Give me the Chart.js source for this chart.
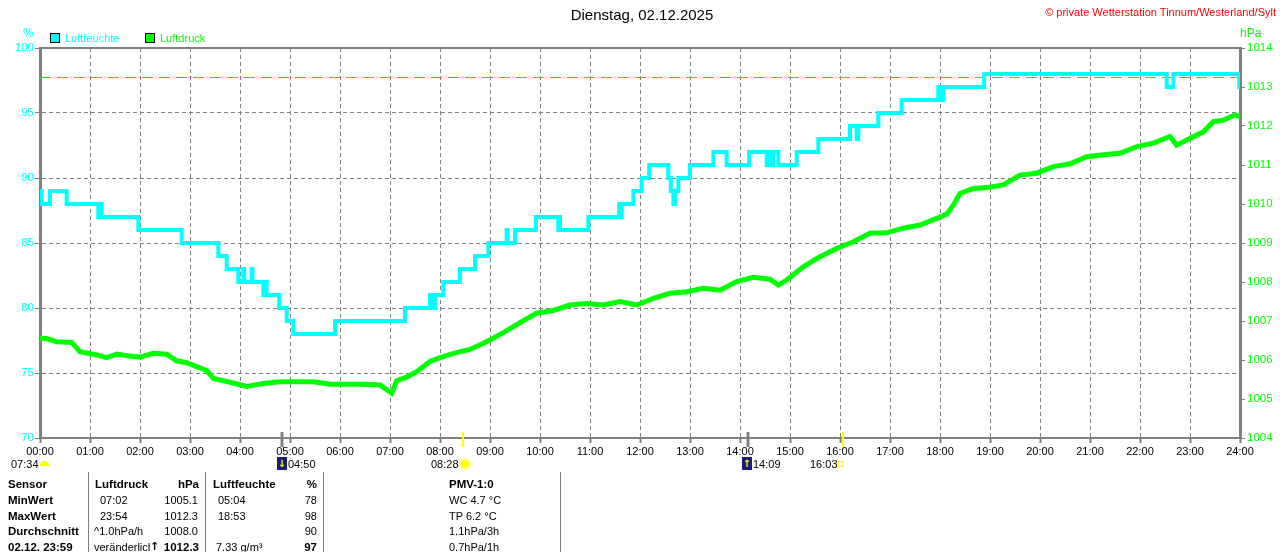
<!DOCTYPE html>
<html>
<head>
<meta charset="utf-8">
<script src="https://cdn.jsdelivr.net/npm/chart.js@4.4.0/dist/chart.umd.min.js"></script>
<style>
  html, body { margin:0; padding:0; background:#fff; }
  #wrap { position:relative; width:1280px; height:552px; overflow:hidden; background:#fff; }
  #c { position:absolute; left:0; top:0; }
  .t { position:absolute; white-space:nowrap; line-height:1; font-family:'Liberation Sans',Arial,sans-serif; font-size:11px; color:#000; }
  .b { font-weight:bold; font-size:11.5px; }
  .r { text-align:right; }
  .vl { position:absolute; width:1px; background:#808080; top:472px; height:80px; }
  .moon { position:absolute; width:10px; height:13px; background:#1a1a7a; color:#ffff00; font-size:10px; line-height:13px; text-align:center; font-family:'DejaVu Sans',sans-serif; font-weight:bold; }
</style>
</head>
<body>
<div id="wrap">
  <canvas id="c" width="1280" height="552"></canvas>

  <div class="t" style="left:0;width:1284px;text-align:center;top:7px;font-size:15px;">Dienstag, 02.12.2025</div>
  <div class="t" style="right:4px;top:7px;color:#ff0000;font-size:11px;">© private Wetterstation Tinnum/Westerland/Sylt</div>

  <div class="t" style="left:23px;top:27px;color:#00ffff;font-size:12px;">%</div>
  <div style="position:absolute;left:50px;top:33px;width:8px;height:8px;border:1px solid #000;background:#00ffff;"></div>
  <div class="t" style="left:65px;top:33px;color:#00ffff;font-size:11px;">Luftfeuchte</div>
  <div style="position:absolute;left:145px;top:33px;width:8px;height:8px;border:1px solid #000;background:#00ff00;"></div>
  <div class="t" style="left:160px;top:33px;color:#00ff00;font-size:11px;">Luftdruck</div>
  <div class="t" style="left:1240px;top:27px;color:#00ff00;font-size:12px;">hPa</div>

  <!-- sun / moon events -->
  <div class="t" style="left:11px;top:459px;">07:34</div>
  <div style="position:absolute;left:40px;top:461px;width:9px;height:5px;background:#ffff00;border-radius:5px 5px 0 0;"></div>
  <div class="moon" style="left:277px;top:457px;">↓</div>
  <div class="t" style="left:288px;top:459px;">04:50</div>
  <div class="t" style="left:431px;top:459px;">08:28</div>
  <div style="position:absolute;left:461px;top:460px;width:8px;height:8px;border-radius:50%;background:#ffff00;box-shadow:0 0 0 2px #ffff99;"></div>
  <div class="moon" style="left:742px;top:457px;">↑</div>
  <div class="t" style="left:753px;top:459px;">14:09</div>
  <div class="t" style="left:810px;top:459px;">16:03</div>
  <div style="position:absolute;left:838px;top:461px;width:4px;height:4px;border:1px solid #ffff00;"></div>

  <!-- table -->
  <div class="vl" style="left:88px;"></div>
  <div class="vl" style="left:205px;"></div>
  <div class="vl" style="left:323px;"></div>
  <div class="vl" style="left:560px;"></div>

  <div class="t b" style="left:8px;top:479px;">Sensor</div>
  <div class="t b" style="left:95px;top:479px;">Luftdruck</div>
  <div class="t b r" style="right:1081px;top:479px;">hPa</div>
  <div class="t b" style="left:213px;top:479px;">Luftfeuchte</div>
  <div class="t b r" style="right:963px;top:479px;">%</div>
  <div class="t b" style="left:449px;top:479px;">PMV-1:0</div>

  <div class="t b" style="left:8px;top:495px;">MinWert</div>
  <div class="t" style="left:100px;top:495px;">07:02</div>
  <div class="t r" style="right:1082px;top:495px;">1005.1</div>
  <div class="t" style="left:218px;top:495px;">05:04</div>
  <div class="t r" style="right:963px;top:495px;">78</div>
  <div class="t" style="left:449px;top:495px;">WC 4.7 °C</div>

  <div class="t b" style="left:8px;top:511px;">MaxWert</div>
  <div class="t" style="left:100px;top:511px;">23:54</div>
  <div class="t r" style="right:1082px;top:511px;">1012.3</div>
  <div class="t" style="left:218px;top:511px;">18:53</div>
  <div class="t r" style="right:963px;top:511px;">98</div>
  <div class="t" style="left:449px;top:511px;">TP 6.2 °C</div>

  <div class="t b" style="left:8px;top:526px;">Durchschnitt</div>
  <div class="t" style="left:94px;top:526px;">^1.0hPa/h</div>
  <div class="t r" style="right:1082px;top:526px;">1008.0</div>
  <div class="t r" style="right:963px;top:526px;">90</div>
  <div class="t" style="left:449px;top:526px;">1.1hPa/3h</div>

  <div class="t b" style="left:8px;top:542px;">02.12. 23:59</div>
  <div class="t" style="left:94px;top:542px;width:56px;overflow:hidden;">veränderlich</div>
  <div class="t" style="left:150px;top:541px;font-family:'DejaVu Sans',sans-serif;font-weight:bold;font-size:11px;color:#000;">↑</div>
  <div class="t b r" style="right:1081px;top:542px;">1012.3</div>
  <div class="t" style="left:216px;top:542px;">7.33 g/m³</div>
  <div class="t b r" style="right:963px;top:542px;">97</div>
  <div class="t" style="left:449px;top:542px;">0.7hPa/1h</div>
</div>

<script>
// ---------- data ----------
const xTickLabels = ["00:00","01:00","02:00","03:00","04:00","05:00","06:00","07:00","08:00","09:00","10:00","11:00","12:00",
                     "13:00","14:00","15:00","16:00","17:00","18:00","19:00","20:00","21:00","22:00","23:00","24:00"];

const humTimes = ["00:00","00:02","00:12","00:32","01:10","01:11","01:14","01:58","02:50","03:34","03:44","03:58","04:04","04:05",
  "04:14","04:15","04:28","04:29","04:32","04:47","04:56","05:04","05:54","07:18","07:48","07:50","07:54","08:04","08:24",
  "08:42","08:58","09:20","09:21","09:30","09:55","10:22","10:23","10:24","10:58","11:35","11:37","11:38","11:52","12:02",
  "12:11","12:34","12:37","12:40","12:42","12:46","12:50","13:00","13:28","13:44","14:11","14:32","14:34","14:38","14:40",
  "14:46","15:08","15:34","16:12","16:20","16:22","16:46","17:14","17:58","18:00","18:04","18:53","22:32","22:40","23:59","24:00"];
const humValues = [89,88,89,88,87,88,87,86,85,84,83,82,83,82,
  83,82,81,82,81,80,79,78,79,80,81,80,81,82,83,
  84,85,86,85,86,87,86,87,86,87,88,87,88,89,90,
  91,90,89,88,89,90,90,91,92,91,92,91,92,91,92,
  91,92,93,94,93,94,95,96,97,96,97,98,97,98,97,97];

const pressTimes = ["00:00","00:08","00:20","00:38","00:48","01:08","01:20","01:32","01:48","02:00","02:16","02:32","02:44",
  "02:56","03:08","03:20","03:28","03:48","04:08","04:28","04:48","05:08","05:28","05:48","06:08","06:28","06:48","07:02",
  "07:08","07:20","07:32","07:48","08:00","08:16","08:36","08:56","09:16","09:36","09:56","10:16","10:36","10:56","11:16",
  "11:36","11:56","12:16","12:36","12:56","13:16","13:36","13:56","14:16","14:36","14:46","14:56","15:16","15:36","15:56",
  "16:16","16:36","16:56","17:16","17:36","17:56","18:08","18:16","18:24","18:40","18:56","19:16","19:36","19:56","20:16",
  "20:36","20:56","21:16","21:36","21:56","22:16","22:36","22:44","22:56","23:16","23:28","23:40","23:54","24:00"];
const pressValues = [1006.56,1006.55,1006.47,1006.45,1006.21,1006.13,1006.06,1006.15,1006.10,1006.07,1006.17,1006.15,1005.98,
  1005.93,1005.83,1005.73,1005.53,1005.43,1005.32,1005.40,1005.44,1005.44,1005.44,1005.38,1005.38,1005.38,1005.36,1005.15,
  1005.47,1005.56,1005.70,1005.96,1006.06,1006.17,1006.27,1006.47,1006.70,1006.96,1007.20,1007.27,1007.41,1007.45,1007.41,
  1007.50,1007.41,1007.58,1007.71,1007.75,1007.84,1007.79,1008.01,1008.12,1008.07,1007.92,1008.05,1008.39,1008.65,1008.86,
  1009.03,1009.25,1009.26,1009.38,1009.46,1009.63,1009.74,1009.97,1010.27,1010.40,1010.42,1010.49,1010.74,1010.79,1010.96,
  1011.03,1011.21,1011.26,1011.30,1011.47,1011.56,1011.73,1011.51,1011.64,1011.85,1012.11,1012.15,1012.28,1012.25];

const referencePressure = 1013.25;
const sunTimes = ["08:28","16:03"];
const moonTimes = ["04:50","14:09"];

// ---------- helpers ----------
const toMin = s => { const p = s.split(':').map(Number); return p[0]*60 + p[1]; };
const fam = "'Liberation Sans',Arial,sans-serif";

const decor = {
  id: 'decor',
  beforeDatasetsDraw(chart) {
    const {ctx, chartArea:a, scales} = chart;
    ctx.save();
    const yr = Math.round(scales.y1.getPixelForValue(referencePressure)) + 0.5;
    ctx.strokeStyle = '#22dd22'; ctx.lineWidth = 1; ctx.setLineDash([11,6]);
    ctx.beginPath(); ctx.moveTo(a.left, yr); ctx.lineTo(a.right, yr); ctx.stroke();
    ctx.restore();
  },
  afterDraw(chart) {
    const {ctx, chartArea:a, scales} = chart;
    ctx.save();
    ctx.strokeStyle = '#808080'; ctx.setLineDash([]);
    ctx.lineWidth = 2;
    ctx.beginPath(); ctx.moveTo(a.left - 1, a.top); ctx.lineTo(a.right + 1, a.top); ctx.stroke();
    ctx.lineWidth = 3; ctx.strokeStyle = '#808080';
    moonTimes.forEach(t => {
      const x = Math.round(scales.x.getPixelForValue(toMin(t)));
      ctx.beginPath(); ctx.moveTo(x, a.bottom - 6); ctx.lineTo(x, a.bottom + 9); ctx.stroke();
    });
    ctx.lineWidth = 2; ctx.strokeStyle = '#ffff00';
    sunTimes.forEach(t => {
      const x = Math.round(scales.x.getPixelForValue(toMin(t)));
      ctx.beginPath(); ctx.moveTo(x, a.bottom - 6); ctx.lineTo(x, a.bottom + 9); ctx.stroke();
    });
    ctx.restore();
  }
};

new Chart(document.getElementById('c'), {
  type: 'line',
  data: {
    datasets: [
      {
        label: 'Luftfeuchte',
        data: humTimes.map((t, i) => ({x: toMin(t), y: humValues[i]})),
        yAxisID: 'y',
        borderColor: '#00ffff',
        borderWidth: 4,
        stepped: true,
        pointRadius: 0,
        fill: false,
        order: 1
      },
      {
        label: 'Luftdruck',
        data: pressTimes.map((t, i) => ({x: toMin(t), y: pressValues[i]})),
        yAxisID: 'y1',
        borderColor: '#00ff00',
        borderWidth: 5,
        tension: 0,
        pointRadius: 0,
        fill: false,
        order: 2
      }
    ]
  },
  options: {
    responsive: false,
    animation: false,
    devicePixelRatio: 1,
    layout: { padding: { top: 48, left: 0, right: 0, bottom: 0 } },
    plugins: { legend: { display: false }, tooltip: { enabled: false }, title: { display: false } },
    scales: {
      x: {
        type: 'linear', min: 0, max: 1440,
        afterBuildTicks: s => { s.ticks = xTickLabels.map((_, i) => ({value: i * 60})); },
        ticks: { autoSkip: false, maxRotation: 0, color: '#000', padding: 2,
                 font: { family: fam, size: 11 },
                 callback: v => xTickLabels[Math.round(v / 60)] },
        grid: { color: '#808080', lineWidth: 1, tickLength: 5, tickColor: '#808080', tickWidth: 2, tickBorderDash: [] },
        border: { display: true, color: '#808080', width: 2, dash: [4, 3] },
        afterFit: s => { s.height = 114; }
      },
      y: {
        position: 'left', min: 70, max: 100,
        ticks: { stepSize: 5, color: '#00ffff', padding: 1, font: { family: fam, size: 11.5 },
                 callback: v => String(v) },
        grid: { color: '#808080', lineWidth: 1, tickLength: 5, tickColor: '#808080', tickWidth: 1, tickBorderDash: [] },
        border: { display: true, color: '#808080', width: 3, dash: [4, 3] },
        afterFit: s => { s.width = 40; }
      },
      y1: {
        position: 'right', min: 1004, max: 1014,
        ticks: { stepSize: 1, color: '#00ff00', padding: 2, font: { family: fam, size: 11.5 },
                 callback: v => String(v) },
        grid: { drawOnChartArea: false, tickLength: 5, tickColor: '#808080', tickWidth: 1 },
        border: { display: true, color: '#808080', width: 3 },
        afterFit: s => { s.width = 40; }
      }
    }
  },
  plugins: [decor]
});
</script>
</body>
</html>
